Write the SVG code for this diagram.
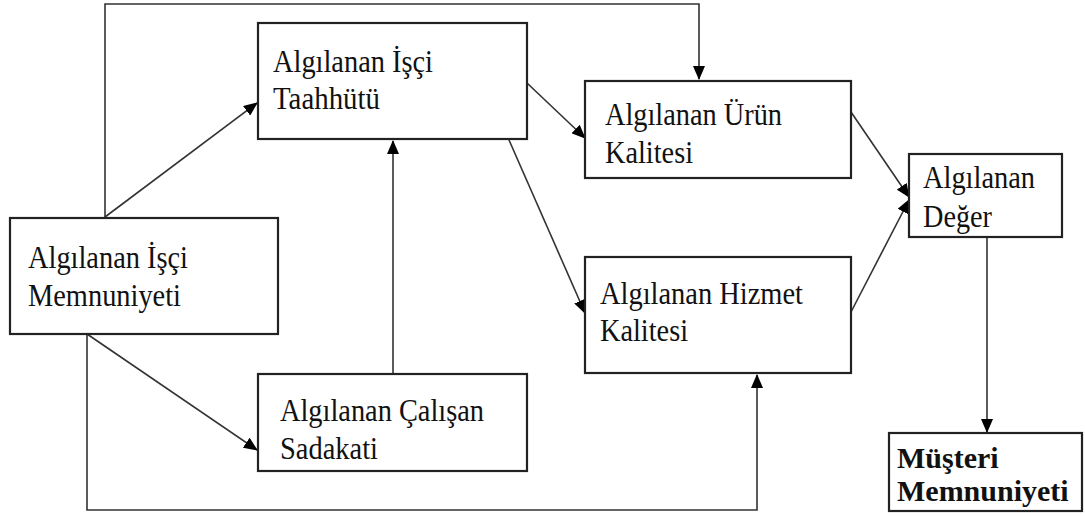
<svg xmlns="http://www.w3.org/2000/svg" width="1085" height="516" viewBox="0 0 1085 516">
<style>
.box{fill:#fff;stroke:#222;stroke-width:2.2}
.t{font-family:"Liberation Serif","Times New Roman",serif;font-size:31px;fill:#111}
.b{font-family:"Liberation Serif","Times New Roman",serif;font-size:30px;font-weight:bold;fill:#111}
.c{fill:none;stroke:#333;stroke-width:1.6}
</style>
<defs>
<marker id="ah" markerUnits="userSpaceOnUse" markerWidth="14" markerHeight="12" refX="13" refY="6" orient="auto">
<path d="M0,0 L14,6 L0,12 z" fill="#000"/>
</marker>
</defs>
<rect width="1085" height="516" fill="#fff"/>
<g id="connectors">
<path class="c" d="M105,217 V4 H699 V79" marker-end="url(#ah)"/>
<path class="c" d="M105,217 L257,103" marker-end="url(#ah)"/>
<path class="c" d="M393,374 V141" marker-end="url(#ah)"/>
<path class="c" d="M527,83 L585,138" marker-end="url(#ah)"/>
<path class="c" d="M509,140 L585,313" marker-end="url(#ah)"/>
<path class="c" d="M851,112 L909,197" marker-end="url(#ah)"/>
<path class="c" d="M851,312 L909,200" marker-end="url(#ah)"/>
<path class="c" d="M87,334 L257,450" marker-end="url(#ah)"/>
<path class="c" d="M87,334 V510 H757 V375" marker-end="url(#ah)"/>
<path class="c" d="M987,237 V432" marker-end="url(#ah)"/>
</g>
<g id="taahhut">
<rect class="box" x="258" y="23" width="269" height="116"/>
<text class="t" x="273" y="72" textLength="160" lengthAdjust="spacingAndGlyphs">Algılanan İşçi</text>
<text class="t" x="273" y="109" textLength="107" lengthAdjust="spacingAndGlyphs">Taahhütü</text>
</g>
<g id="memnuniyet">
<rect class="box" x="10" y="218" width="268" height="116"/>
<text class="t" x="28" y="268" textLength="160" lengthAdjust="spacingAndGlyphs">Algılanan İşçi</text>
<text class="t" x="28" y="306" textLength="153" lengthAdjust="spacingAndGlyphs">Memnuniyeti</text>
</g>
<g id="urun">
<rect class="box" x="585" y="81" width="266" height="97"/>
<text class="t" x="605" y="125" textLength="177" lengthAdjust="spacingAndGlyphs">Algılanan Ürün</text>
<text class="t" x="605" y="163" textLength="88" lengthAdjust="spacingAndGlyphs">Kalitesi</text>
</g>
<g id="hizmet">
<rect class="box" x="585" y="257" width="266" height="116"/>
<text class="t" x="600" y="304" textLength="203" lengthAdjust="spacingAndGlyphs">Algılanan Hizmet</text>
<text class="t" x="600" y="341" textLength="88" lengthAdjust="spacingAndGlyphs">Kalitesi</text>
</g>
<g id="calisan">
<rect class="box" x="258" y="374" width="269" height="97"/>
<text class="t" x="280" y="421" textLength="204" lengthAdjust="spacingAndGlyphs">Algılanan Çalışan</text>
<text class="t" x="280" y="459" textLength="98" lengthAdjust="spacingAndGlyphs">Sadakati</text>
</g>
<g id="deger">
<rect class="box" x="909" y="154" width="153" height="83"/>
<text class="t" x="923" y="188" textLength="112" lengthAdjust="spacingAndGlyphs">Algılanan</text>
<text class="t" x="923" y="227" textLength="69" lengthAdjust="spacingAndGlyphs">Değer</text>
</g>
<g id="musteri">
<rect class="box" x="889" y="433" width="193" height="78"/>
<text class="b" x="897" y="468">Müşteri</text>
<text class="b" x="897" y="501">Memnuniyeti</text>
</g>
</svg>
